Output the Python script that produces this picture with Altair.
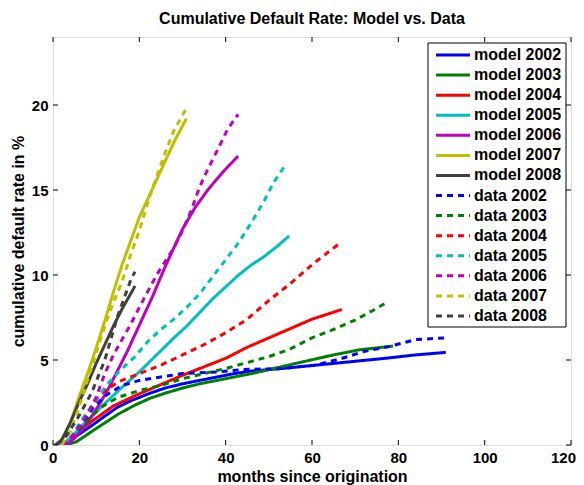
import altair as alt
import pandas as pd

# ---------------- data ----------------
model_2002_m = [2.5, 4.7, 7, 9.3, 12, 14.8, 18, 22.5, 26, 30, 34, 38, 42, 46, 53, 61, 69, 77, 84, 91]
model_2002_r = [0, 0.4, 0.8, 1.2, 1.7, 2.2, 2.6, 3.05, 3.35, 3.6, 3.8, 4.0, 4.2, 4.35, 4.5, 4.7, 4.9, 5.1, 5.3, 5.45]

model_2003_m = [3, 5.5, 9, 12, 15, 19, 22.5, 26, 30, 34, 38, 42, 46, 52, 58, 65, 71, 78.8]
model_2003_r = [0, 0.2, 0.8, 1.3, 1.8, 2.35, 2.75, 3.05, 3.35, 3.6, 3.8, 4.0, 4.2, 4.55, 4.9, 5.3, 5.6, 5.82]

model_2004_m = [2, 5, 9, 14, 19, 24, 30, 35, 40, 45, 50, 55, 60, 66.9]
model_2004_r = [0, 0.55, 1.4, 2.3, 2.9, 3.45, 4.1, 4.6, 5.1, 5.75, 6.3, 6.85, 7.4, 7.97]

model_2005_m = [2, 4, 7, 11, 16, 20, 24, 28, 31, 34, 37, 40, 43, 46, 49, 52, 54.7]
model_2005_r = [0, 0.4, 1.2, 2.2, 3.4, 4.3, 5.3, 6.3, 7.0, 7.8, 8.6, 9.3, 10.0, 10.6, 11.1, 11.7, 12.3]

model_2006_m = [3, 5, 7, 9, 11, 13, 15, 17, 19, 21, 23, 26, 30, 33, 36, 39.5, 42.9]
model_2006_r = [0, 0.4, 1.0, 1.7, 2.5, 3.4, 4.4, 5.4, 6.5, 7.6, 8.7, 10.5, 12.7, 14.0, 15.05, 16.1, 17.0]

model_2007_m = [1, 2, 4, 6, 8, 10, 12, 14, 16, 18, 20, 22, 24, 26, 28, 30.9]
model_2007_r = [0, 0.2, 1.3, 2.8, 4.2, 5.7, 7.3, 9.0, 10.6, 12.0, 13.4, 14.5, 15.6, 16.7, 17.8, 19.2]

model_2008_m = [0.5, 2, 4, 6, 8, 10, 12, 14, 16, 18, 19]
model_2008_r = [0, 0.3, 1.3, 2.5, 3.6, 4.8, 5.9, 7.0, 8.0, 8.9, 9.35]

data_2002_m = [2, 4, 7, 9.3, 12.4, 16, 20, 25, 30, 38, 45, 53, 61, 67, 72, 78, 84, 91]
data_2002_r = [0, 0.4, 1.2, 2.2, 2.95, 3.5, 3.8, 4.0, 4.2, 4.3, 4.45, 4.5, 4.7, 5.1, 5.5, 5.8, 6.2, 6.3]

data_2003_m = [2, 4, 7, 11, 15, 20, 25, 30, 35, 40, 45, 50, 55, 60, 65, 70, 74, 77.4]
data_2003_r = [0, 0.4, 1.2, 2.2, 2.8, 3.2, 3.5, 3.9, 4.2, 4.5, 4.85, 5.2, 5.65, 6.3, 6.8, 7.35, 7.9, 8.4]

data_2004_m = [2, 5, 8, 11, 15, 19, 25, 30, 35, 40, 45, 50, 55, 60, 63, 66.1]
data_2004_r = [0, 0.7, 1.9, 3.0, 3.7, 4.1, 4.7, 5.3, 5.9, 6.6, 7.4, 8.5, 9.5, 10.6, 11.2, 11.8]

data_2005_m = [2, 4, 7, 10, 13, 16, 19, 22, 25, 28, 31, 34, 37, 40, 43, 46, 49, 51, 53.9]
data_2005_r = [0, 0.4, 1.6, 2.7, 3.7, 4.5, 5.2, 6.1, 6.8, 7.4, 8.1, 8.9, 9.9, 10.9, 11.9, 13.1, 14.4, 15.4, 16.5]

data_2006_m = [2, 4, 6, 8, 10, 12, 14, 16, 18, 20, 24, 28, 30, 32, 34, 36, 38, 40.5, 42.9]
data_2006_r = [0, 0.3, 1.1, 1.8, 2.8, 4.2, 5.3, 6.2, 7.1, 8.1, 10.0, 11.6, 12.6, 13.8, 15.2, 16.3, 17.3, 18.6, 19.45]

data_2007_m = [2, 4, 6, 8, 10, 12, 14, 16, 18, 20, 22, 24, 26, 28, 30.7]
data_2007_r = [0, 0.8, 2.2, 3.8, 5.4, 7.0, 8.4, 9.6, 11.2, 12.6, 14.3, 15.8, 17.2, 18.5, 19.7]

data_2008_m = [1, 3, 6, 9, 12, 15, 18, 19]
data_2008_r = [0, 0.5, 1.7, 3.1, 5.0, 7.6, 9.7, 10.2]

series_labels = ["model 2002", "model 2003", "model 2004", "model 2005", "model 2006",
                 "model 2007", "model 2008", "data 2002", "data 2003", "data 2004",
                 "data 2005", "data 2006", "data 2007", "data 2008"]

x_ticks = [0, 20, 40, 60, 80, 100, 120]
y_ticks = [0, 5, 10, 15, 20]

# ---------------- styling ----------------
year_colors = ["#0000ff", "#008000", "#ff0000", "#00bfbf", "#bf00bf", "#bfbf00", "#404040"]
series_colors = year_colors + year_colors
series_dashes = [[1, 0]] * 7 + [[6, 5]] * 7

pairs = [
    (model_2002_m, model_2002_r), (model_2003_m, model_2003_r), (model_2004_m, model_2004_r),
    (model_2005_m, model_2005_r), (model_2006_m, model_2006_r), (model_2007_m, model_2007_r),
    (model_2008_m, model_2008_r), (data_2002_m, data_2002_r), (data_2003_m, data_2003_r),
    (data_2004_m, data_2004_r), (data_2005_m, data_2005_r), (data_2006_m, data_2006_r),
    (data_2007_m, data_2007_r), (data_2008_m, data_2008_r),
]
rows = []
for i, (lab, (ms, rs)) in enumerate(zip(series_labels, pairs)):
    for j, (m, r) in enumerate(zip(ms, rs)):
        rows.append({"series": lab, "month": m, "rate": r, "order": i, "pt": j})
df = pd.DataFrame(rows)

W, H = 518, 408
FONT = "Liberation Sans"

color_scale = alt.Scale(domain=series_labels, range=series_colors)
dash_scale = alt.Scale(domain=series_labels, range=series_dashes)
x_scale = alt.Scale(domain=[0, 120], nice=False, zero=False)
y_scale = alt.Scale(domain=[0, 24], nice=False)

lines = alt.Chart(df).mark_line(strokeWidth=3, clip=True).encode(
    x=alt.X("month:Q", scale=x_scale,
            axis=alt.Axis(values=x_ticks, title="months since origination", ticks=False,
                          domain=False, grid=False, labelFontSize=15, labelFontWeight="bold",
                          labelFont=FONT, labelColor="black", labelPadding=5,
                          labelFlush=True, labelFlushOffset=4.5, labelOverlap=False,
                          labelBound=False,
                          titleFont=FONT, titleFontSize=16, titleFontWeight="bold",
                          titleColor="black", titleBaseline="alphabetic", titleY=36)),
    y=alt.Y("rate:Q", scale=y_scale,
            axis=alt.Axis(values=y_ticks, title="cumulative default rate in %", ticks=False,
                          domain=False, grid=False, labelFontSize=15, labelFontWeight="bold",
                          labelFont=FONT, labelColor="black", labelPadding=5,
                          labelFlush=False, labelOverlap=False, labelBound=False,
                          titleFont=FONT, titleFontSize=16, titleFontWeight="bold",
                          titleColor="black", titleBaseline="alphabetic", titleAngle=-90,
                          titleX=-30, titleY=H / 2, titleAlign="center")),
    color=alt.Color("series:N", scale=color_scale, legend=None),
    strokeDash=alt.StrokeDash("series:N", scale=dash_scale, legend=None),
    detail="series:N",
    order="pt:Q",
)

xt = pd.DataFrame({"t": x_ticks})
yt = pd.DataFrame({"t": y_ticks})
tick_style = dict(color="black", strokeWidth=1)
xt_bottom = alt.Chart(xt).mark_rule(**tick_style).encode(
    x=alt.X("t:Q", scale=x_scale), y=alt.value(H), y2=alt.value(H - 5))
xt_top = alt.Chart(xt).mark_rule(**tick_style).encode(
    x=alt.X("t:Q", scale=x_scale), y=alt.value(0), y2=alt.value(5))
yt_left = alt.Chart(yt).mark_rule(**tick_style).encode(
    y=alt.Y("t:Q", scale=y_scale), x=alt.value(0), x2=alt.value(5))
yt_right = alt.Chart(yt).mark_rule(**tick_style).encode(
    y=alt.Y("t:Q", scale=y_scale), x=alt.value(W), x2=alt.value(W - 5))

main = alt.layer(lines, xt_bottom, xt_top, yt_left, yt_right)

# ---------------- legend (drawn as marks) ----------------
leg_df = pd.DataFrame({"series": series_labels})
leg_y = alt.Y("series:N", scale=alt.Scale(type="point", domain=series_labels,
                                          range=[18, 279], padding=0), axis=None)
box = alt.Chart(pd.DataFrame({"a": [0]})).mark_rect(
    fill="white", stroke="black", strokeWidth=1).encode(
    x=alt.value(375), x2=alt.value(513), y=alt.value(6), y2=alt.value(290))
leg_lines = alt.Chart(leg_df).mark_rule(strokeWidth=3).encode(
    x=alt.value(383), x2=alt.value(417), y=leg_y,
    color=alt.Color("series:N", scale=color_scale, legend=None),
    strokeDash=alt.StrokeDash("series:N", scale=dash_scale, legend=None))
leg_text = alt.Chart(leg_df).mark_text(
    align="left", baseline="middle", font=FONT, fontSize=16, fontWeight="bold",
    color="black").encode(x=alt.value(421), y=leg_y, text="series:N")
legend = alt.layer(box, leg_lines, leg_text)

chart = alt.layer(main, legend).resolve_scale(y="independent").properties(
    width=W, height=H,
    title=alt.TitleParams("Cumulative Default Rate: Model vs. Data", font=FONT,
                          fontSize=16, fontWeight="bold", color="black", offset=10,
                          anchor="middle"),
    autosize=alt.AutoSizeParams(type="none"),
    padding={"left": 45, "top": 29, "right": 5, "bottom": 40},
).configure_view(stroke="black", strokeWidth=1).configure(background="white")

chart.save("out.html", embed_options={"renderer": "svg", "actions": False})
